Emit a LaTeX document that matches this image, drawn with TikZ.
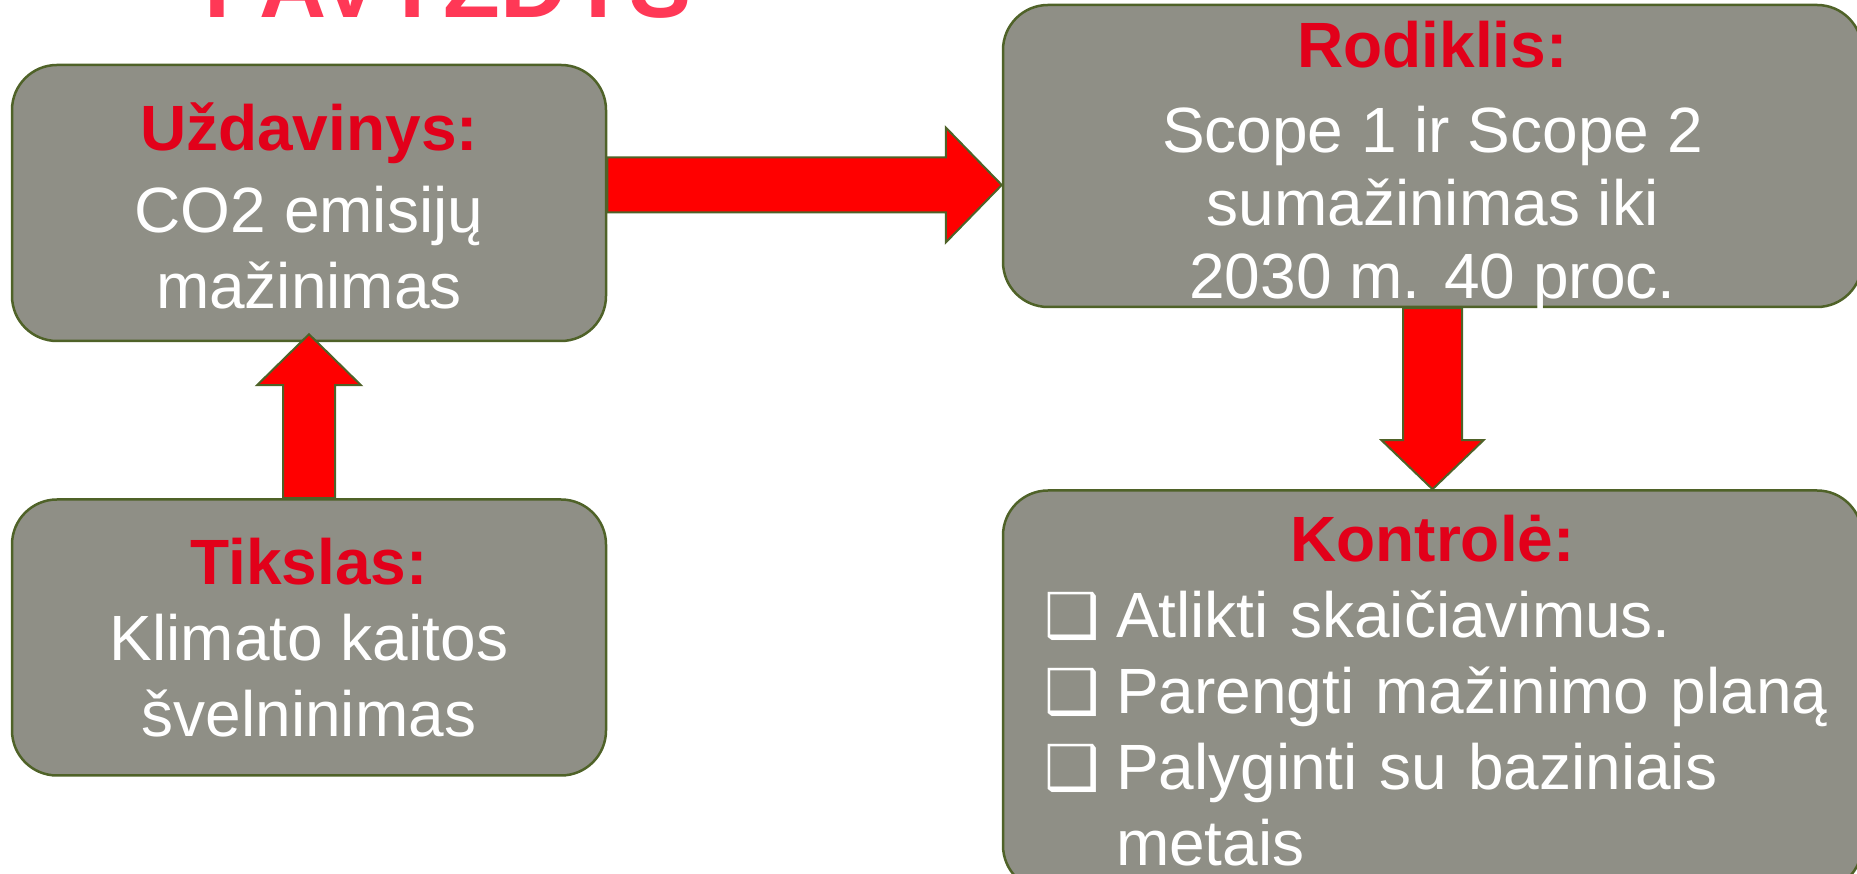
\documentclass[tikz,border=0pt]{standalone}
\usepackage{fontspec}
\setmainfont{Liberation Sans}
\newfontfamily\symbolfont{DejaVu Sans}
\usepackage{xcolor}
\usetikzlibrary{positioning,calc}
\definecolor{boxgray}{HTML}{8F8F86}
\definecolor{olive}{HTML}{4F6228}
\definecolor{headred}{HTML}{E2001A}
\definecolor{titlepink}{HTML}{FF3856}
\definecolor{arrowred}{HTML}{FF0000}
\newcommand{\hd}[1]{\textcolor{headred}{\bfseries #1}}
\newcommand{\chk}{\makebox[100pt][l]{\hspace{28pt}\symbolfont\fontsize{62}{62}\selectfont ❑}}

\begin{document}
\begin{tikzpicture}[x=1pt,y=1pt,
 b/.style={draw=olive,line width=2.5pt,rounded corners=45pt,fill=boxgray,text=white,align=center,inner sep=0pt,font=\fontsize{64}{76}\selectfont},
 arr/.style={draw=olive,line width=2pt,fill=arrowred,line join=miter}]
\useasboundingbox (0,0) rectangle (1857,874);
\node[anchor=base,text=titlepink,font=\bfseries\fontsize{93}{93}\selectfont] (title) at (448,856) {PAVYZDYS};
\node[b,minimum width=594pt,minimum height=276pt] (task) at (309,671) {\hd{\rule{0pt}{53pt}Uždavinys:}\\[6pt]CO2 emisijų\\mažinimas};
\node[b,minimum width=594pt,minimum height=276pt,below=156pt of task] (goal) {\hd{Tikslas:}\\Klimato kaitos\\švelninimas};
\node[b,minimum width=859pt,minimum height=302pt,font=\fontsize{64}{73}\selectfont] (indicator) at (1432.5,718) {\hd{\rule{0pt}{55pt}Rodiklis:}\\[12pt]Scope 1 ir Scope 2\\sumažinimas iki\\\raisebox{0pt}[\height][0pt]{2030 m. 40 proc.}};
\node[b,minimum width=859pt,minimum height=400pt,text width=833pt,inner xsep=13pt,align=left,below=181pt of indicator] (control) {\makebox[833pt]{\hd{Kontrolė:}}\\\chk Atlikti skaičiavimus.\\\chk Parengti mažinimo planą\\\chk Palyginti su baziniais\\\hspace*{100pt}metais};
% block arrows
\coordinate (hrow) at (0,689);
\draw[arr] let \p1=(task.east |- hrow),\p2=(indicator.west |- hrow) in
 (\x1,\y1+27.5pt) -- (\x2-56pt,\y1+27.5pt) -- (\x2-56pt,\y1+57.5pt) -- (\x2,\y2) -- (\x2-56pt,\y1-57.5pt) -- (\x2-56pt,\y1-27.5pt) -- (\x1,\y1-27.5pt) -- cycle;
\draw[arr] let \p1=(goal.north),\p2=(task.south) in
 (\x1-26pt,\y1) -- (\x1-26pt,\y2-43pt) -- (\x1-52pt,\y2-43pt) -- (\x1,\y2+8pt) -- (\x1+52pt,\y2-43pt) -- (\x1+26pt,\y2-43pt) -- (\x1+26pt,\y1) -- cycle;
\draw[arr] let \p1=(indicator.south),\p2=(control.north) in
 (\x1-29.5pt,\y1) -- (\x1-29.5pt,\y2+49pt) -- (\x1-51pt,\y2+49pt) -- (\x1,\y2) -- (\x1+51pt,\y2+49pt) -- (\x1+29.5pt,\y2+49pt) -- (\x1+29.5pt,\y1) -- cycle;
\end{tikzpicture}
\end{document}
